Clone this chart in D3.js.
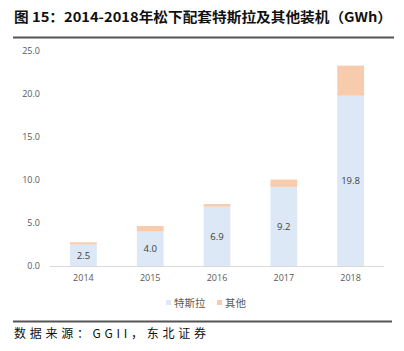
<!DOCTYPE html>
<html>
<head>
<meta charset="utf-8">
<script src="https://cdn.jsdelivr.net/npm/d3@7"></script>
<style>
  body { margin: 0; background: #fff; }
  svg { display: block; }
</style>
</head>
<body>
<div id="chart"></div>
<script>
// chart data
var years = ["2014", "2015", "2016", "2017", "2018"];
var tesla = [2.5, 4.0, 6.9, 9.2, 19.8];
var others = [0.25, 0.65, 0.3, 0.85, 3.5];
var yTicks = [0, 5, 10, 15, 20, 25];
var seriesNames = ["特斯拉", "其他"];

var width = 404, height = 351;
var margin = { top: 51, right: 20, bottom: 85, left: 50 };

var svg = d3.select("#chart").append("svg")
    .attr("width", width)
    .attr("height", height);

// title + rules
svg.append("text")
    .attr("x", 14)
    .attr("y", 22)
    .attr("textLength", 378)
    .attr("lengthAdjust", "spacingAndGlyphs")
    .style("font-family", "'Noto Sans CJK SC', sans-serif")
    .style("font-weight", "bold")
    .style("font-size", "13.5px")
    .style("fill", "#111")
    .text("图 15：2014-2018年松下配套特斯拉及其他装机（GWh）");

svg.append("line")
    .attr("x1", 13).attr("x2", 394)
    .attr("y1", 37.5).attr("y2", 37.5)
    .style("stroke", "#555")
    .style("stroke-width", 2);

svg.append("line")
    .attr("x1", 13).attr("x2", 392)
    .attr("y1", 321.5).attr("y2", 321.5)
    .style("stroke", "#555")
    .style("stroke-width", 2);

svg.append("text")
    .attr("x", 14)
    .attr("y", 338)
    .attr("textLength", 192)
    .attr("lengthAdjust", "spacing")
    .style("font-family", "'Noto Sans CJK SC', sans-serif")
    .style("font-size", "12px")
    .style("fill", "#111")
    .text("数据来源：GGII，东北证券");

// scales
var x = d3.scaleBand()
    .domain(years)
    .range([margin.left, 384])
    .paddingInner(0.6)
    .paddingOuter(0.3);

var y = d3.scaleLinear()
    .domain([0, 25])
    .range([266, margin.top]);

var data = years.map(function(d, i) {
    return { year: d, tesla: tesla[i], other: others[i] };
});

// y axis labels (no line)
var yAxis = svg.append("g")
    .attr("transform", "translate(" + margin.left + ",0)")
    .call(d3.axisLeft(y).tickValues(yTicks).tickFormat(d3.format(".1f")).tickSize(0).tickPadding(10));
yAxis.select(".domain").remove();
yAxis.selectAll("text")
    .style("font-family", "'Open Sans', sans-serif")
    .style("font-size", "9px")
    .style("fill", "#595959");

// bars
svg.selectAll(".bar-tesla")
    .data(data)
    .enter().append("rect")
    .attr("class", "bar-tesla")
    .attr("x", function(d) { return x(d.year); })
    .attr("width", x.bandwidth())
    .attr("y", function(d) { return y(d.tesla); })
    .attr("height", function(d) { return y(0) - y(d.tesla); })
    .style("fill", "#dce8f5");

svg.selectAll(".bar-other")
    .data(data)
    .enter().append("rect")
    .attr("class", "bar-other")
    .attr("x", function(d) { return x(d.year); })
    .attr("width", x.bandwidth())
    .attr("y", function(d) { return y(d.tesla + d.other); })
    .attr("height", function(d) { return y(d.tesla) - y(d.tesla + d.other); })
    .style("fill", "#f8cbad");

svg.selectAll(".bar-label")
    .data(data)
    .enter().append("text")
    .attr("class", "bar-label")
    .attr("x", function(d) { return x(d.year) + x.bandwidth() / 2; })
    .attr("y", function(d) { return (y(d.tesla) + y(0)) / 2; })
    .attr("dy", "0.35em")
    .attr("text-anchor", "middle")
    .style("font-family", "'Open Sans', sans-serif")
    .style("font-size", "9.5px")
    .style("fill", "#404040")
    .text(function(d) { return d3.format(".1f")(d.tesla); });

// x axis
var xAxis = svg.append("g")
    .attr("transform", "translate(0," + y(0) + ")")
    .call(d3.axisBottom(x).tickSize(0).tickPadding(9));
xAxis.select(".domain")
    .attr("d", "M" + margin.left + ",0.5H384")
    .style("stroke", "#d9d9d9");
xAxis.selectAll("text")
    .style("font-family", "'Open Sans', sans-serif")
    .style("font-size", "9px")
    .style("fill", "#595959");

// legend
var legendColors = ["#dce8f5", "#f8cbad"];
var legendX = [166, 217];
var legend = svg.selectAll(".legend")
    .data(seriesNames)
    .enter().append("g")
    .attr("class", "legend")
    .attr("transform", function(d, i) { return "translate(" + legendX[i] + ",303)"; });

legend.append("rect")
    .attr("x", 0).attr("y", -3)
    .attr("width", 5).attr("height", 5)
    .style("fill", function(d, i) { return legendColors[i]; });

legend.append("text")
    .attr("x", 8)
    .attr("y", 0)
    .attr("dy", "0.35em")
    .style("font-family", "'Noto Sans CJK SC', sans-serif")
    .style("font-size", "10.5px")
    .style("fill", "#595959")
    .text(function(d) { return d; });
</script>
</body>
</html>
